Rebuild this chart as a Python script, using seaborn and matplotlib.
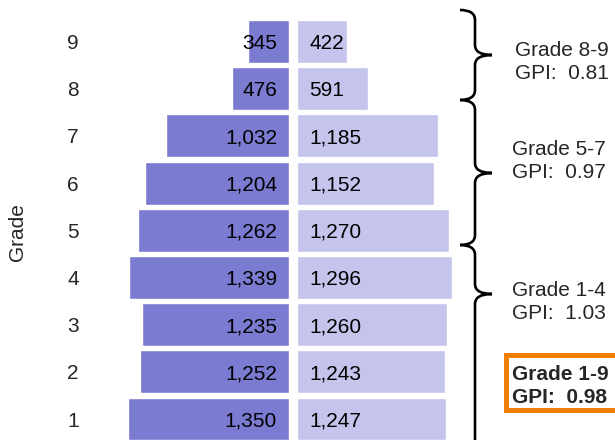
import matplotlib
matplotlib.use("Agg")
import matplotlib.pyplot as plt
from matplotlib.path import Path
from matplotlib.patches import PathPatch
import seaborn as sns
import pandas as pd

# ---- data ----
grades = ["9", "8", "7", "6", "5", "4", "3", "2", "1"]
left_values = [345, 476, 1032, 1204, 1262, 1339, 1235, 1252, 1350]
right_values = [422, 591, 1185, 1152, 1270, 1296, 1260, 1243, 1247]
group_titles = ["Grade 8-9", "Grade 5-7", "Grade 1-4"]
group_gpi = ["GPI:  0.81", "GPI:  0.97", "GPI:  1.03"]
total_title = "Grade 1-9"
total_gpi = "GPI:  0.98"

LEFT_COLOR = "#7b7bd2"
RIGHT_COLOR = "#c4c4ec"
FONT = "Liberation Sans"
FS = 15

sns.set_theme(style="white")
plt.rcParams["font.family"] = [FONT, "DejaVu Sans"]

W, H = 615, 440
fig = plt.figure(figsize=(W / 100, H / 100), dpi=100)
fig.patch.set_facecolor("white")

df = pd.DataFrame({"grade": grades, "left": left_values, "right": right_values})

# axes geometry (pixels)
lx0, lx1 = 110, 289
rx0, rx1 = 297, 457
scale = (lx1 - lx0) / 1500.0
ylim = (8.445, -0.879)

axL = fig.add_axes([lx0 / W, 0, (lx1 - lx0) / W, 1])
axR = fig.add_axes([rx0 / W, 0, (rx1 - rx0) / W, 1])

sns.barplot(data=df, x="left", y="grade", order=grades, orient="h",
            color=LEFT_COLOR, saturation=1, width=0.91, ax=axL)
sns.barplot(data=df, x="right", y="grade", order=grades, orient="h",
            color=RIGHT_COLOR, saturation=1, width=0.91, ax=axR)

axL.set_xlim(1500, 0)
axR.set_xlim(0, (rx1 - rx0) / scale)
for ax in (axL, axR):
    ax.set_ylim(*ylim)
    ax.set_xlabel("")
    ax.set_ylabel("")
    ax.set_xticks([])
    for s in ax.spines.values():
        s.set_visible(False)
    ax.set_facecolor("none")

axL.tick_params(axis="y", length=0, pad=(lx0 - 79) * 72 / 100, labelsize=FS)
axR.set_yticks([])

off = 12 / scale
for i, (lv, rv) in enumerate(zip(left_values, right_values)):
    axL.text(off, i, f"{lv:,}", ha="right", va="center_baseline", fontsize=FS, color="black")
    axR.text(off, i, f"{rv:,}", ha="left", va="center_baseline", fontsize=FS, color="black")

fig.text(18 / W, 1 - 232 / H, "Grade", rotation=90, ha="center", va="center", fontsize=FS)

# overlay for braces and notes
ov = fig.add_axes([0, 0, 1, 1], zorder=5)
ov.set_xlim(0, W)
ov.set_ylim(H, 0)
ov.axis("off")
ov.patch.set_alpha(0)


def brace(y0, y1, ym, xe=460, xl=475, xt=492, r=10):
    verts = [(xe, y0), (xl, y0), (xl, y0 + r),
             (xl, ym - r), (xl, ym), (xt, ym),
             (xl, ym), (xl, ym + r),
             (xl, y1 - r), (xl, y1), (xe, y1)]
    codes = [Path.MOVETO, Path.CURVE3, Path.CURVE3,
             Path.LINETO, Path.CURVE3, Path.CURVE3,
             Path.CURVE3, Path.CURVE3,
             Path.LINETO, Path.CURVE3, Path.CURVE3]
    ov.add_patch(PathPatch(Path(verts, codes), fill=False, lw=1.9,
                           edgecolor="black", capstyle="butt", clip_on=False))


brace(10, 100, 55)
brace(100, 245, 173)
brace(245, 450, 294)

note_pos = [(515, 56, 79), (512, 155, 178), (512, 296, 319)]
for (x, b1, b2), t, g in zip(note_pos, group_titles, group_gpi):
    ov.text(x, b1, t, ha="left", va="baseline", fontsize=FS)
    ov.text(x, b2, g, ha="left", va="baseline", fontsize=FS)

# orange box open on the right (runs off the figure edge)
bx0, by0, by1, bx1 = 505.5, 355.5, 410.5, 700
ov.plot([bx1, bx0, bx0, bx1], [by0, by0, by1, by1], color="#f07f00",
        lw=3.6, solid_joinstyle="miter", clip_on=True)
ov.text(512, 380, total_title, ha="left", va="baseline", fontsize=FS, fontweight="bold")
ov.text(512, 403, total_gpi, ha="left", va="baseline", fontsize=FS, fontweight="bold")

fig.savefig("out.png", dpi=100, facecolor="white")
